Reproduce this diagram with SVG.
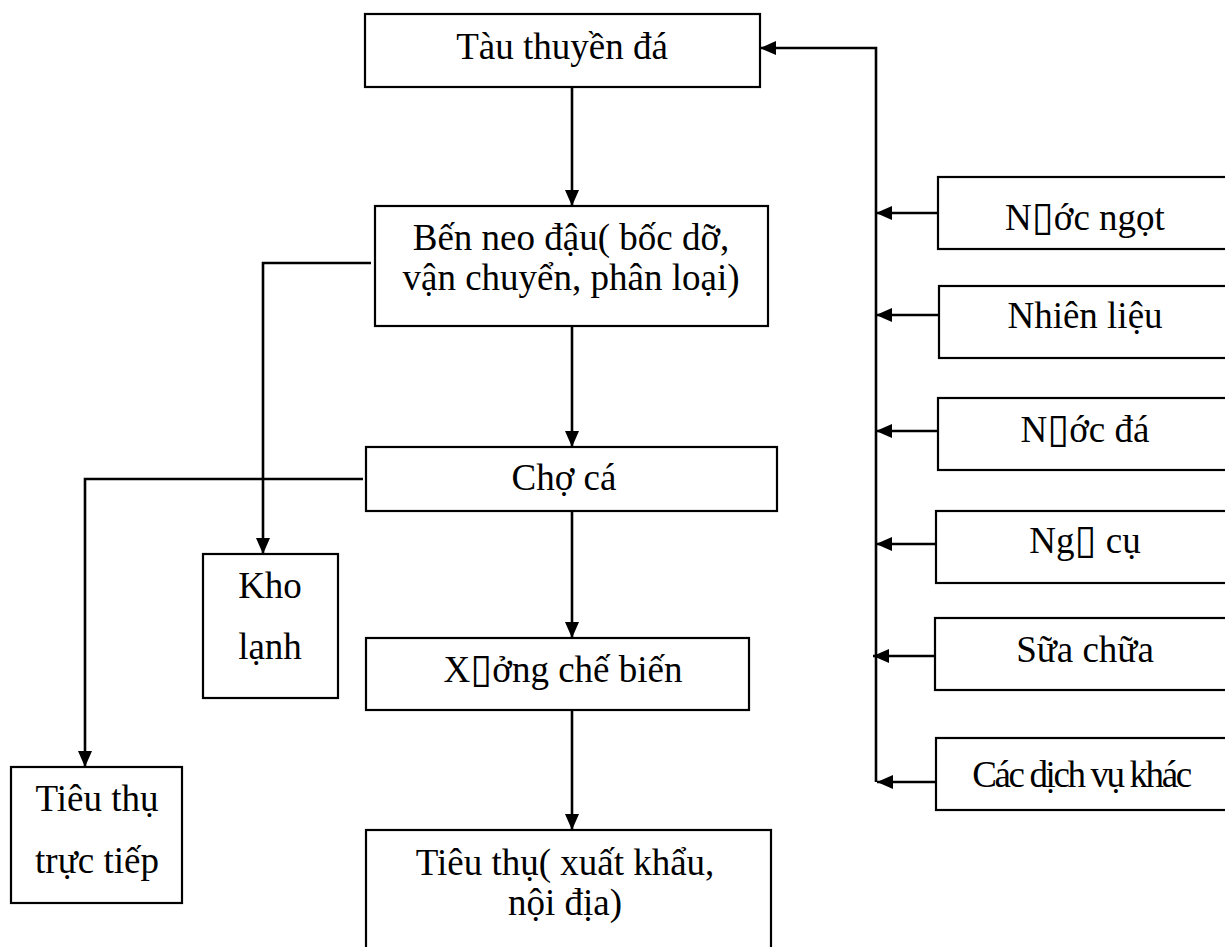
<svg xmlns="http://www.w3.org/2000/svg" width="1225" height="947" viewBox="0 0 1225 947">
<style>
.box{fill:#fff;stroke:#000;stroke-width:2.2}
.t{font-family:"Liberation Serif","Times New Roman",serif;font-size:37px;fill:#000;text-anchor:middle}
.sq{font-family:"DejaVu Sans",sans-serif;font-size:40px}
.c{fill:none;stroke:#000;stroke-width:2.6}
</style>
<defs>
<marker id="ah" viewBox="0 0 16 14" refX="16" refY="7" markerWidth="16" markerHeight="14" markerUnits="userSpaceOnUse" orient="auto">
<path d="M0,0 L16,7 L0,14 z" fill="#000"/>
</marker>
</defs>
<rect width="1225" height="947" fill="#fff"/>
<g id="connectors">
<path class="c" d="M572,87 V206" marker-end="url(#ah)"/>
<path class="c" d="M572,326 V447" marker-end="url(#ah)"/>
<path class="c" d="M572,511 V638" marker-end="url(#ah)"/>
<path class="c" d="M572,710 V830" marker-end="url(#ah)"/>
<path class="c" d="M371,263 H263 V554" marker-end="url(#ah)"/>
<path class="c" d="M363,479 H85 V767" marker-end="url(#ah)"/>
<path class="c" d="M876,782 V48 H760" marker-end="url(#ah)"/>
<path class="c" d="M938,213 H876" marker-end="url(#ah)"/>
<path class="c" d="M939,315 H876" marker-end="url(#ah)"/>
<path class="c" d="M938,431 H876" marker-end="url(#ah)"/>
<path class="c" d="M936,544 H876" marker-end="url(#ah)"/>
<path class="c" d="M935,656 H873" marker-end="url(#ah)"/>
<path class="c" d="M936,782 H877" marker-end="url(#ah)"/>
</g>
<g id="tau"><rect class="box" x="365" y="14" width="395" height="73"/><text class="t" x="562" y="59">Tàu thuyền đá</text></g>
<g id="ben"><rect class="box" x="375" y="206" width="393" height="120"/><text class="t" x="571" y="250">Bến neo đậu( bốc dỡ,</text><text class="t" x="571" y="290">vận chuyển, phân loại)</text></g>
<g id="cho"><rect class="box" x="366" y="447" width="411" height="64"/><text class="t" x="564" y="490">Chợ cá</text></g>
<g id="xuong"><rect class="box" x="366" y="638" width="383" height="72"/><text class="t" x="563" y="682">X<tspan class="sq">▯</tspan>ởng chế biến</text></g>
<g id="tieuthu"><rect class="box" x="366" y="830" width="405" height="140"/><text class="t" x="565" y="875">Tiêu thụ( xuất khẩu,</text><text class="t" x="565" y="915">nội địa)</text></g>
<g id="kho"><rect class="box" x="203" y="554" width="135" height="144"/><text class="t" x="270" y="598">Kho</text><text class="t" x="270" y="659">lạnh</text></g>
<g id="tructiep"><rect class="box" x="11" y="767" width="171" height="136"/><text class="t" x="97" y="811">Tiêu thụ</text><text class="t" x="97" y="873">trực tiếp</text></g>
<g id="nuocngot"><rect class="box" x="938" y="177" width="300" height="72"/><text class="t" x="1085" y="230">N<tspan class="sq">▯</tspan>ớc ngọt</text></g>
<g id="nhienlieu"><rect class="box" x="939" y="286" width="300" height="72"/><text class="t" x="1085" y="328">Nhiên liệu</text></g>
<g id="nuocda"><rect class="box" x="938" y="398" width="300" height="72"/><text class="t" x="1085" y="442">N<tspan class="sq">▯</tspan>ớc đá</text></g>
<g id="ngucu"><rect class="box" x="936" y="511" width="300" height="72"/><text class="t" x="1085" y="553">Ng<tspan class="sq">▯</tspan> cụ</text></g>
<g id="suachua"><rect class="box" x="935" y="618" width="300" height="72"/><text class="t" x="1085" y="662">Sữa chữa</text></g>
<g id="dichvu"><rect class="box" x="936" y="738" width="300" height="72"/><text class="t" x="1081" y="787" style="letter-spacing:-2.4px">Các dịch vụ khác</text></g>
</svg>
